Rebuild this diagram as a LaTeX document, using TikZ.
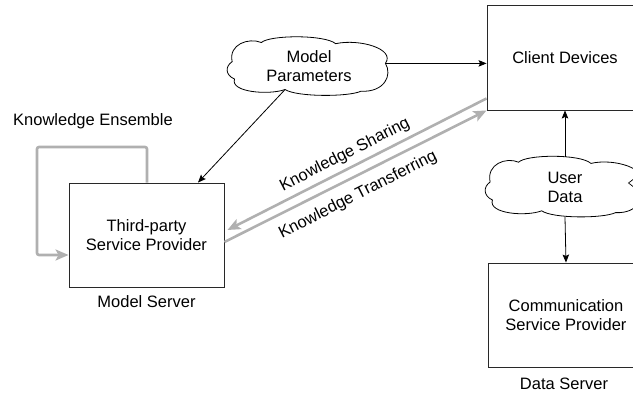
\documentclass[tikz,border=0pt]{standalone}
\usepackage{fontspec}
\setmainfont{Liberation Sans}
\usetikzlibrary{arrows.meta}
\definecolor{garr}{RGB}{176,176,176}
\definecolor{bord}{RGB}{40,40,40}
\begin{document}
\begin{tikzpicture}[x=1pt,y=-1pt,
  every node/.style={font=\fontsize{16.5pt}{19pt}\selectfont, align=center, inner sep=0pt},
  box/.style={draw=bord, line width=0.9pt, minimum width=155pt, minimum height=104pt},
  cloudpic/.pic={
    \coordinate (-dr) at (0.985,0.45);
    \coordinate (-dbl) at (0.35,0.90);
    \draw[black, line width=0.8pt]
      (0.015,0.42) .. controls (-0.01,0.12) and (0.12,0.0) .. (0.20,0.09)
      .. controls (0.25,-0.04) and (0.60,-0.05) .. (0.67,0.11)
      .. controls (0.82,0.02) and (1.05,0.20) .. (0.985,0.45)
      .. controls (1.03,0.65) and (0.98,0.95) .. (0.83,0.93)
      .. controls (0.75,1.03) and (0.42,1.03) .. (0.35,0.90)
      .. controls (0.25,1.0) and (0.0,0.95) .. (0.03,0.72)
      .. controls (-0.03,0.65) and (-0.03,0.5) .. (0.015,0.42) -- cycle;},
  barrow/.style={draw=black, line width=0.8pt, -{Stealth[length=8pt,width=6.5pt,inset=1.5pt]}},
  garrow/.style={draw=garr, line width=2.6pt, -{Stealth[length=13pt,width=11pt,inset=3pt]}}
]
\useasboundingbox (0,0) rectangle (633,396);
\clip (0,0) rectangle (633,396);

% boxes
\node[box] (tp) at (146.5,235) {Third-party\\Service Provider};
\node[box, minimum height=105pt, minimum width=156pt] (client) at (565,57.5) {Client Devices};
\node[box, minimum width=156pt] (comm) at (566,315) {Communication\\Service Provider};

% clouds
\node[minimum width=158pt, minimum height=58pt] (mp) at (309,66.5) {Model\\Parameters};
\path (mp.north west) pic[x=158pt, y=-58pt] (mpc) {cloudpic};
\node[minimum width=154pt, minimum height=60pt] (ud) at (565,187) {User\\Data};
\path (ud.north west) pic[x=154pt, y=-60pt] (udc) {cloudpic};

% labels
\node (ke) at (93,121) {Knowledge Ensemble};
\node (ms) at (146.5,302) {Model Server};
\node (ds) at (564,384) {Data Server};

% black arrows
\draw[barrow] (mpc-dr) -- (mpc-dr -| client.west);
\draw[barrow] (mpc-dbl) -- ([xshift=51.5pt]tp.north);
\draw[barrow] (ud.north) -- (client.south);
\draw[barrow] (ud.south) -- (comm.north);

% gray arrows
\draw[garrow] ([yshift=12pt]client.south west) -- ([xshift=3pt,yshift=5pt]tp.east);
\draw[garrow] ([yshift=-7pt]tp.east) -- (client.south west);
\node[rotate=27] (ks) at (345,155) {Knowledge Sharing};
\node[rotate=27] (kt) at (358,195) {Knowledge Transferring};

% loop
\coordinate (lp) at (37,147);
\draw[garrow, rounded corners=2pt] ([xshift=0.5pt]tp.north) |- (lp) |- ([yshift=-20pt]tp.west);

% partial arrowhead at right edge
\draw[black, line width=0.7pt] (633,179.5) -- (628.5,183) -- (633,186.5);
\end{tikzpicture}
\end{document}
